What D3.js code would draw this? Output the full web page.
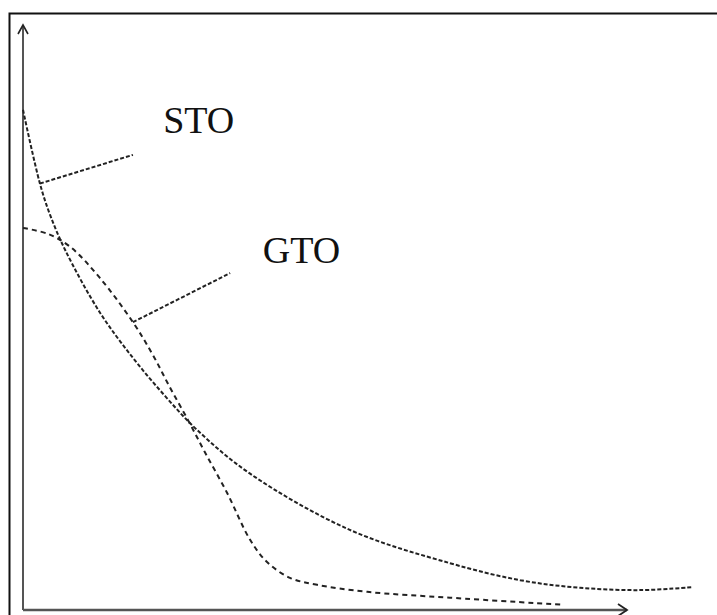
<!DOCTYPE html>
<html>
<head>
<meta charset="utf-8">
<script src="https://cdn.jsdelivr.net/npm/d3@7"></script>
<style>
  html, body { margin: 0; padding: 0; background: #fff; }
  svg { display: block; }
</style>
</head>
<body>
<script>
// ---- data ----
const stoX = [0, 2.8, 4.5, 7.0, 12.7, 18.2, 23.5, 28.8, 37.6, 54.1, 70.7, 82.3, 92.2, 102.2, 110.9];
const stoY = [85.5, 72.9, 67.5, 61.5, 50.9, 43.1, 36.6, 30.8, 23.3, 13.7, 8.0, 5.1, 3.8, 3.4, 3.9];
const gtoX = [0, 4.1, 7.8, 12.7, 18.2, 21.5, 24.3, 27.3, 30.1, 33.8, 37.6, 40.4, 44.2, 48.7, 57.0, 70.7, 89.4];
const gtoY = [65.3, 64.3, 62.1, 56.8, 49.2, 43.6, 38.1, 32.5, 27.0, 20.0, 12.0, 8.2, 5.5, 4.3, 3.1, 2.1, 0.9];
const labels = ["STO", "GTO"];
const labelX = [23.2, 39.7];
const labelY = [81.5, 59.3];
const leaderFromX = [2.8, 18.2];
const leaderFromY = [72.9, 49.2];
const leaderToX = [18.2, 34.3];
const leaderToY = [77.8, 57.6];

// ---- layout ----
const W = 717, H = 615;
const svg = d3.select("body").append("svg").attr("width", W).attr("height", H);

const x = d3.scaleLinear().domain([0, 100]).range([23, 627]);
const y = d3.scaleLinear().domain([0, 100]).range([610, 25]);

// outer frame
svg.append("rect")
  .attr("x", 9.5).attr("y", 13.5)
  .attr("width", 730).attr("height", 630)
  .attr("fill", "none").attr("stroke", "#111").attr("stroke-width", 2);

const axisColor = "#555";
// y axis
svg.append("line")
  .attr("x1", x(0)).attr("y1", y(0)).attr("x2", x(0)).attr("y2", y(100))
  .attr("stroke", axisColor).attr("stroke-width", 2);
svg.append("path")
  .attr("d", `M${x(0) - 5},${y(100) + 9}L${x(0)},${y(100)}L${x(0) + 5},${y(100) + 9}`)
  .attr("fill", "none").attr("stroke", "#222").attr("stroke-width", 1.6);
// x axis
svg.append("line")
  .attr("x1", x(0)).attr("y1", y(0)).attr("x2", x(100)).attr("y2", y(0))
  .attr("stroke", axisColor).attr("stroke-width", 2.5);
svg.append("path")
  .attr("d", `M${x(100) - 9},${y(0) - 6}L${x(100)},${y(0)}L${x(100) - 9},${y(0) + 6}`)
  .attr("fill", "none").attr("stroke", "#222").attr("stroke-width", 1.8);

// curves
const line = d3.line().x(d => x(d[0])).y(d => y(d[1])).curve(d3.curveCatmullRom.alpha(0.5));
const sto = stoX.map((v, i) => [v, stoY[i]]);
const gto = gtoX.map((v, i) => [v, gtoY[i]]);

svg.append("path").attr("d", line(sto))
  .attr("fill", "none").attr("stroke", "#222").attr("stroke-width", 2)
  .attr("stroke-dasharray", "4,2");
svg.append("path").attr("d", line(gto))
  .attr("fill", "none").attr("stroke", "#222").attr("stroke-width", 2)
  .attr("stroke-dasharray", "5,4");

// leaders
labels.forEach((t, i) => {
  svg.append("line")
    .attr("x1", x(leaderFromX[i])).attr("y1", y(leaderFromY[i]))
    .attr("x2", x(leaderToX[i])).attr("y2", y(leaderToY[i]))
    .attr("stroke", "#222").attr("stroke-width", 2)
    .attr("stroke-dasharray", "4,2");
  svg.append("text")
    .attr("x", x(labelX[i])).attr("y", y(labelY[i]))
    .attr("font-family", "'Liberation Serif', 'DejaVu Serif', serif")
    .attr("font-size", 38)
    .attr("fill", "#111")
    .text(t);
});
</script>
</body>
</html>
